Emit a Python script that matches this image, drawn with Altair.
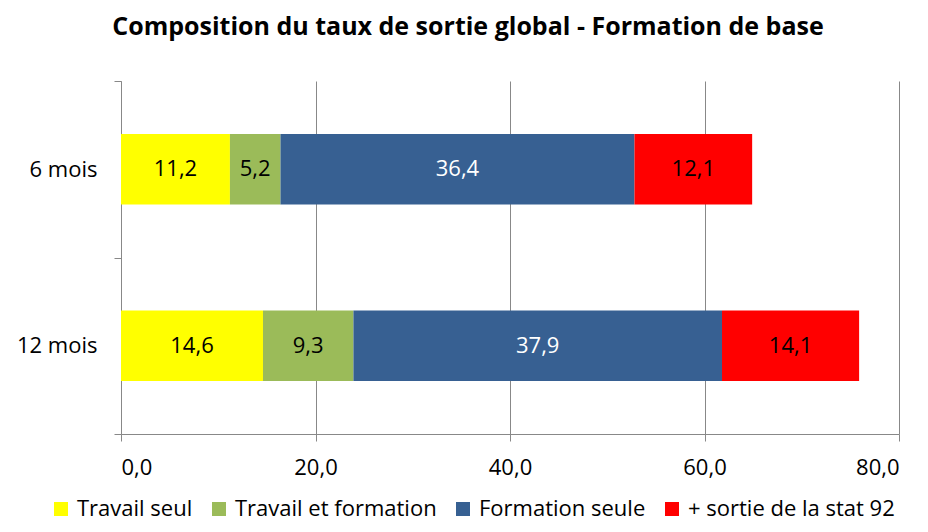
import altair as alt
import pandas as pd

categories = ["6 mois", "12 mois"]
series = ["Travail seul", "Travail et formation", "Formation seule", "+ sortie de la stat 92"]
colors = ["#FFFF00", "#9BBB59", "#376092", "#FF0000"]
text_colors = ["black", "black", "white", "black"]
values_6 = [11.2, 5.2, 36.4, 12.1]
values_12 = [14.6, 9.3, 37.9, 14.1]

rows = []
for cat, vals in zip(categories, [values_6, values_12]):
    for i, (s, v) in enumerate(zip(series, vals)):
        rows.append({"cat": cat, "serie": s, "value": v, "ord": i, "tcol": text_colors[i]})
df = pd.DataFrame(rows)

FONT = "Open Sans"
FS = 22

base = alt.Chart(df).transform_stack(
    stack="value", groupby=["cat"], sort=[alt.SortField("ord")], as_=["x0", "x1"]
).transform_calculate(
    mid="(datum.x0 + datum.x1) / 2",
    label="replace(format(datum.value, '.1f'), '.', ',')",
)

yenc = alt.Y(
    "cat:N",
    sort=categories,
    title=None,
    scale=alt.Scale(paddingInner=0, paddingOuter=0),
    axis=alt.Axis(
        tickBand="extent",
        labelFontSize=FS,
        labelFont=FONT,
        labelColor="black",
        labelPadding=17,
        tickSize=7,
        tickColor="#888888",
        domainColor="#888888",
        grid=False,
    ),
)

bars = base.mark_bar(height={"band": 0.4}).encode(
    x=alt.X(
        "x0:Q",
        title=None,
        scale=alt.Scale(domain=[0, 80]),
        axis=alt.Axis(
            values=[0, 20, 40, 60, 80],
            labelExpr="replace(format(datum.value, '.1f'), '.', ',')",
            labelFontSize=FS,
            labelFont=FONT,
            labelColor="black",
            labelPadding=16,
            tickSize=7,
            tickColor="#888888",
            domainColor="#888888",
            gridColor="#888888",
            gridWidth=1,
        ),
    ),
    x2="x1:Q",
    y=yenc,
    color=alt.Color(
        "serie:N",
        sort=series,
        scale=alt.Scale(domain=series, range=colors),
        legend=alt.Legend(
            title=None,
            orient="none",
            direction="horizontal",
            legendX=-71,
            legendY=417,
            symbolType="square",
            symbolSize=196,
            symbolStrokeWidth=0,
            labelFontSize=FS,
            labelFont=FONT,
            labelColor="black",
            labelLimit=500,
            columnPadding=15,
            labelOffset=5,
        ),
    ),
)

texts = base.mark_text(fontSize=FS, font=FONT).encode(
    x="mid:Q",
    y=alt.Y("cat:N", sort=categories),
    text="label:N",
    color=alt.Color("tcol:N", scale=None),
)

chart = (
    alt.layer(bars, texts)
    .properties(
        width=778,
        height=353,
        title=alt.TitleParams(
            "Composition du taux de sortie global - Formation de base",
            font=FONT,
            fontSize=25,
            fontWeight="bold",
            color="black",
            anchor="middle",
            dx=-42,
            offset=30,
        ),
        autosize=alt.AutoSizeParams(type="none"),
        padding={"left": 113, "top": 73, "right": 21, "bottom": 90},
    )
    .configure_view(stroke=None)
)

chart.save("out.html", embed_options={"renderer": "svg", "actions": False})
